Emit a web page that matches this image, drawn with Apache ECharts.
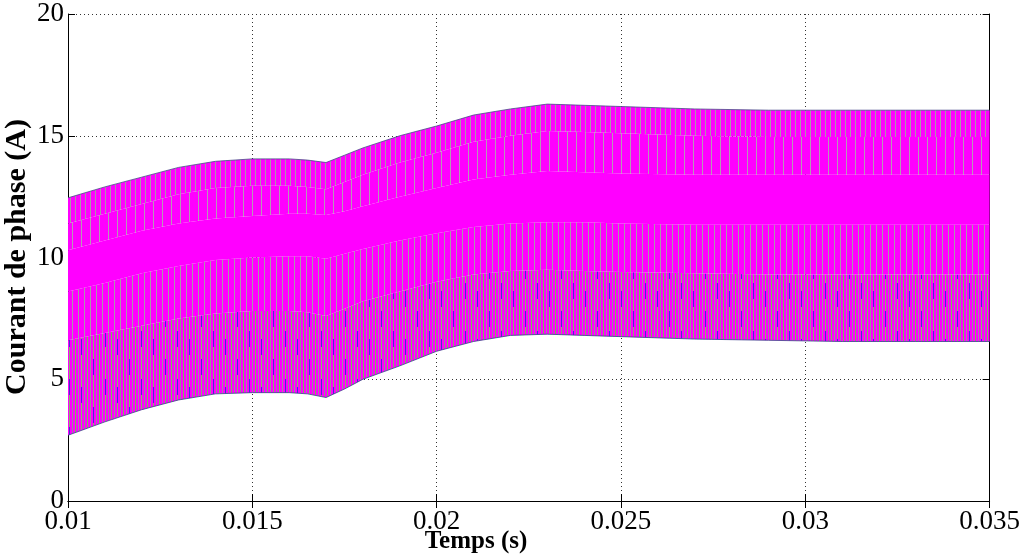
<!DOCTYPE html>
<html>
<head>
<meta charset="utf-8">
<script src="https://cdn.jsdelivr.net/npm/echarts@6/dist/echarts.min.js"></script>
<style>
html,body{margin:0;padding:0;background:#fff;}
#chart{width:1023px;height:555px;}
</style>
</head>
<body>
<div id="chart"></div>
<script>
// ---- data ----
const timeS      = [0.010, 0.011, 0.012, 0.013, 0.014, 0.015, 0.016, 0.0165, 0.017, 0.0175, 0.018, 0.019, 0.020, 0.021, 0.022, 0.023, 0.024, 0.025, 0.027, 0.029, 0.031, 0.033, 0.035];
const upperEnv   = [12.45, 12.9, 13.3, 13.7, 13.95, 14.05, 14.05, 14.0, 13.9, 14.2, 14.5, 15.0, 15.4, 15.85, 16.1, 16.3, 16.25, 16.2, 16.1, 16.05, 16.05, 16.05, 16.05];
const upperInner = [11.4, 11.8, 12.2, 12.6, 12.85, 12.95, 12.95, 12.9, 12.8, 13.1, 13.4, 13.9, 14.3, 14.75, 15.0, 15.2, 15.15, 15.1, 15.0, 14.95, 14.95, 14.95, 14.95];
const coreTop    = [10.3, 10.7, 11.1, 11.4, 11.6, 11.7, 11.8, 11.8, 11.75, 11.9, 12.1, 12.5, 12.85, 13.2, 13.4, 13.55, 13.5, 13.45, 13.4, 13.4, 13.4, 13.4, 13.4];
const coreBottom = [8.6, 8.95, 9.35, 9.65, 9.9, 10.0, 10.05, 10.05, 9.95, 10.15, 10.35, 10.7, 11.0, 11.25, 11.4, 11.45, 11.45, 11.4, 11.35, 11.35, 11.35, 11.35, 11.35];
const denseTop   = [6.6, 6.9, 7.2, 7.5, 7.7, 7.8, 7.8, 7.75, 7.6, 7.9, 8.2, 8.6, 9.0, 9.3, 9.45, 9.5, 9.45, 9.4, 9.35, 9.3, 9.3, 9.3, 9.3];
const lowerEnv   = [2.7, 3.25, 3.75, 4.15, 4.4, 4.45, 4.45, 4.4, 4.25, 4.6, 5.0, 5.55, 6.15, 6.55, 6.8, 6.85, 6.8, 6.75, 6.65, 6.6, 6.55, 6.55, 6.55];
const xTickLabels = ['0.01', '0.015', '0.02', '0.025', '0.03', '0.035'];
const yTickLabels = ['0', '5', '10', '15', '20'];

// ---- stripe textures (style only, not data) ----
const MAG = '#ff00ff';
function makeTexture(w, h, paint) {
  const c = document.createElement('canvas');
  c.width = w; c.height = h;
  const g = c.getContext('2d');
  g.fillStyle = MAG; g.fillRect(0, 0, w, h);
  paint(g, w, h);
  return { image: c, repeat: 'repeat' };
}
const texTopDense = makeTexture(5, 1, function (g) { g.fillStyle = '#a896a8'; g.fillRect(0, 0, 1, 1); });
const texTopSparse = makeTexture(9, 1, function (g) { g.fillStyle = '#b49ab4'; g.fillRect(0, 0, 1, 1); });
const texMid = makeTexture(6, 1, function (g) { g.fillStyle = '#a898a8'; g.fillRect(0, 0, 1, 1); });
const texDense = makeTexture(36, 48, function (g, w, h) {
  for (let x = 0, k = 0; x < w; x += 3, k++) {
    const kind = k % 4;
    if (kind === 0) { g.fillStyle = '#939093'; g.fillRect(x, 0, 1, h); }
    else if (kind === 1) { g.fillStyle = '#78c058'; g.fillRect(x, 0, 1, h); }
    else if (kind === 2) { g.fillStyle = '#9a949a'; g.fillRect(x, 0, 1, h); }
    else {
      g.fillStyle = '#84ba6c'; g.fillRect(x, 0, 1, h);
      g.fillStyle = '#4536c8';
      const y0 = (k * 17) % h;
      g.fillRect(x, y0, 1, Math.min(16, h - y0));
      if (y0 + 16 > h) g.fillRect(x, 0, 1, y0 + 16 - h);
    }
  }
});

// bands: [lower boundary, upper boundary, fill]
const bands = [
  [lowerEnv, denseTop, texDense],
  [denseTop, coreBottom, texMid],
  [coreBottom, coreTop, MAG],
  [coreTop, upperInner, texTopSparse],
  [upperInner, upperEnv, texTopDense]
];

const serif = '"Liberation Serif", "DejaVu Serif", serif';

function renderBand(params, api) {
  const b = bands[params.dataIndex];
  const lo = b[0], hi = b[1];
  const pts = [];
  for (let i = 0; i < timeS.length; i++) pts.push(api.coord([timeS[i], hi[i]]));
  for (let i = timeS.length - 1; i >= 0; i--) pts.push(api.coord([timeS[i], lo[i]]));
  const children = [{
    type: 'polygon', shape: { points: pts },
    style: { fill: b[2], stroke: null }
  }];
  if (params.dataIndex === 0) {
    children.push({ type: 'polyline', shape: { points: timeS.map(function (t, i) { return api.coord([t, lowerEnv[i]]); }) },
      style: { fill: null, stroke: '#3d3d8c', lineWidth: 1, opacity: 0.8 } });
  }
  if (params.dataIndex === bands.length - 1) {
    children.push({ type: 'polyline', shape: { points: timeS.map(function (t, i) { return api.coord([t, upperEnv[i]]); }) },
      style: { fill: null, stroke: '#4a4a8a', lineWidth: 1, opacity: 0.8 } });
  }
  return { type: 'group', children: children };
}

const chart = echarts.init(document.getElementById('chart'), null, { renderer: 'canvas' });
chart.setOption({
  animation: false,
  backgroundColor: '#fff',
  grid: { left: 68, right: 30, top: 14, bottom: 54 },
  xAxis: [{
    type: 'value', min: 0.01, max: 0.035, interval: 0.005,
    axisLine: { show: true, lineStyle: { color: '#000', width: 1 } },
    axisTick: { show: true, inside: true, length: 7, lineStyle: { color: '#000' } },
    axisLabel: {
      color: '#000', fontFamily: serif, fontSize: 27, margin: 7,
      formatter: function (v) { return xTickLabels[Math.round((v - 0.01) / 0.005)]; }
    },
    splitLine: { show: true, lineStyle: { color: '#333', width: 1, type: [1, 3] } }
  }, {
    type: 'value', position: 'top', min: 0.01, max: 0.035, interval: 0.005,
    axisLine: { show: true, lineStyle: { color: '#000', width: 1 } },
    axisTick: { show: true, inside: true, length: 7, lineStyle: { color: '#000' } },
    axisLabel: { show: false }, splitLine: { show: false }
  }],
  yAxis: [{
    type: 'value', min: 0, max: 20, interval: 5,
    axisLine: { show: true, lineStyle: { color: '#000', width: 1 } },
    axisTick: { show: true, inside: true, length: 7, lineStyle: { color: '#000' } },
    axisLabel: {
      color: '#000', fontFamily: serif, fontSize: 27, margin: 4,
      formatter: function (v) { return yTickLabels[Math.round(v / 5)]; }
    },
    splitLine: { show: true, lineStyle: { color: '#333', width: 1, type: [1, 3] } }
  }, {
    type: 'value', position: 'right', min: 0, max: 20, interval: 5,
    axisLine: { show: true, lineStyle: { color: '#000', width: 1 } },
    axisTick: { show: true, inside: true, length: 7, lineStyle: { color: '#000' } },
    axisLabel: { show: false }, splitLine: { show: false }
  }],
  series: [{
    type: 'custom', silent: true, z: 3,
    xAxisIndex: 0, yAxisIndex: 0,
    renderItem: renderBand,
    data: bands.map(function (b, i) { return [timeS[0], i]; }),
    clip: true
  }],
  graphic: [
    { type: 'text', x: 17, y: 257, rotation: Math.PI / 2,
      style: { text: 'Courant de phase (A)', fill: '#000', font: 'bold 30px ' + serif, textAlign: 'center', textVerticalAlign: 'middle' } },
    { type: 'text', x: 476, y: 542,
      style: { text: 'Temps (s)', fill: '#000', font: 'bold 25px ' + serif, textAlign: 'center', textVerticalAlign: 'middle' } }
  ]
});
</script>
</body>
</html>
